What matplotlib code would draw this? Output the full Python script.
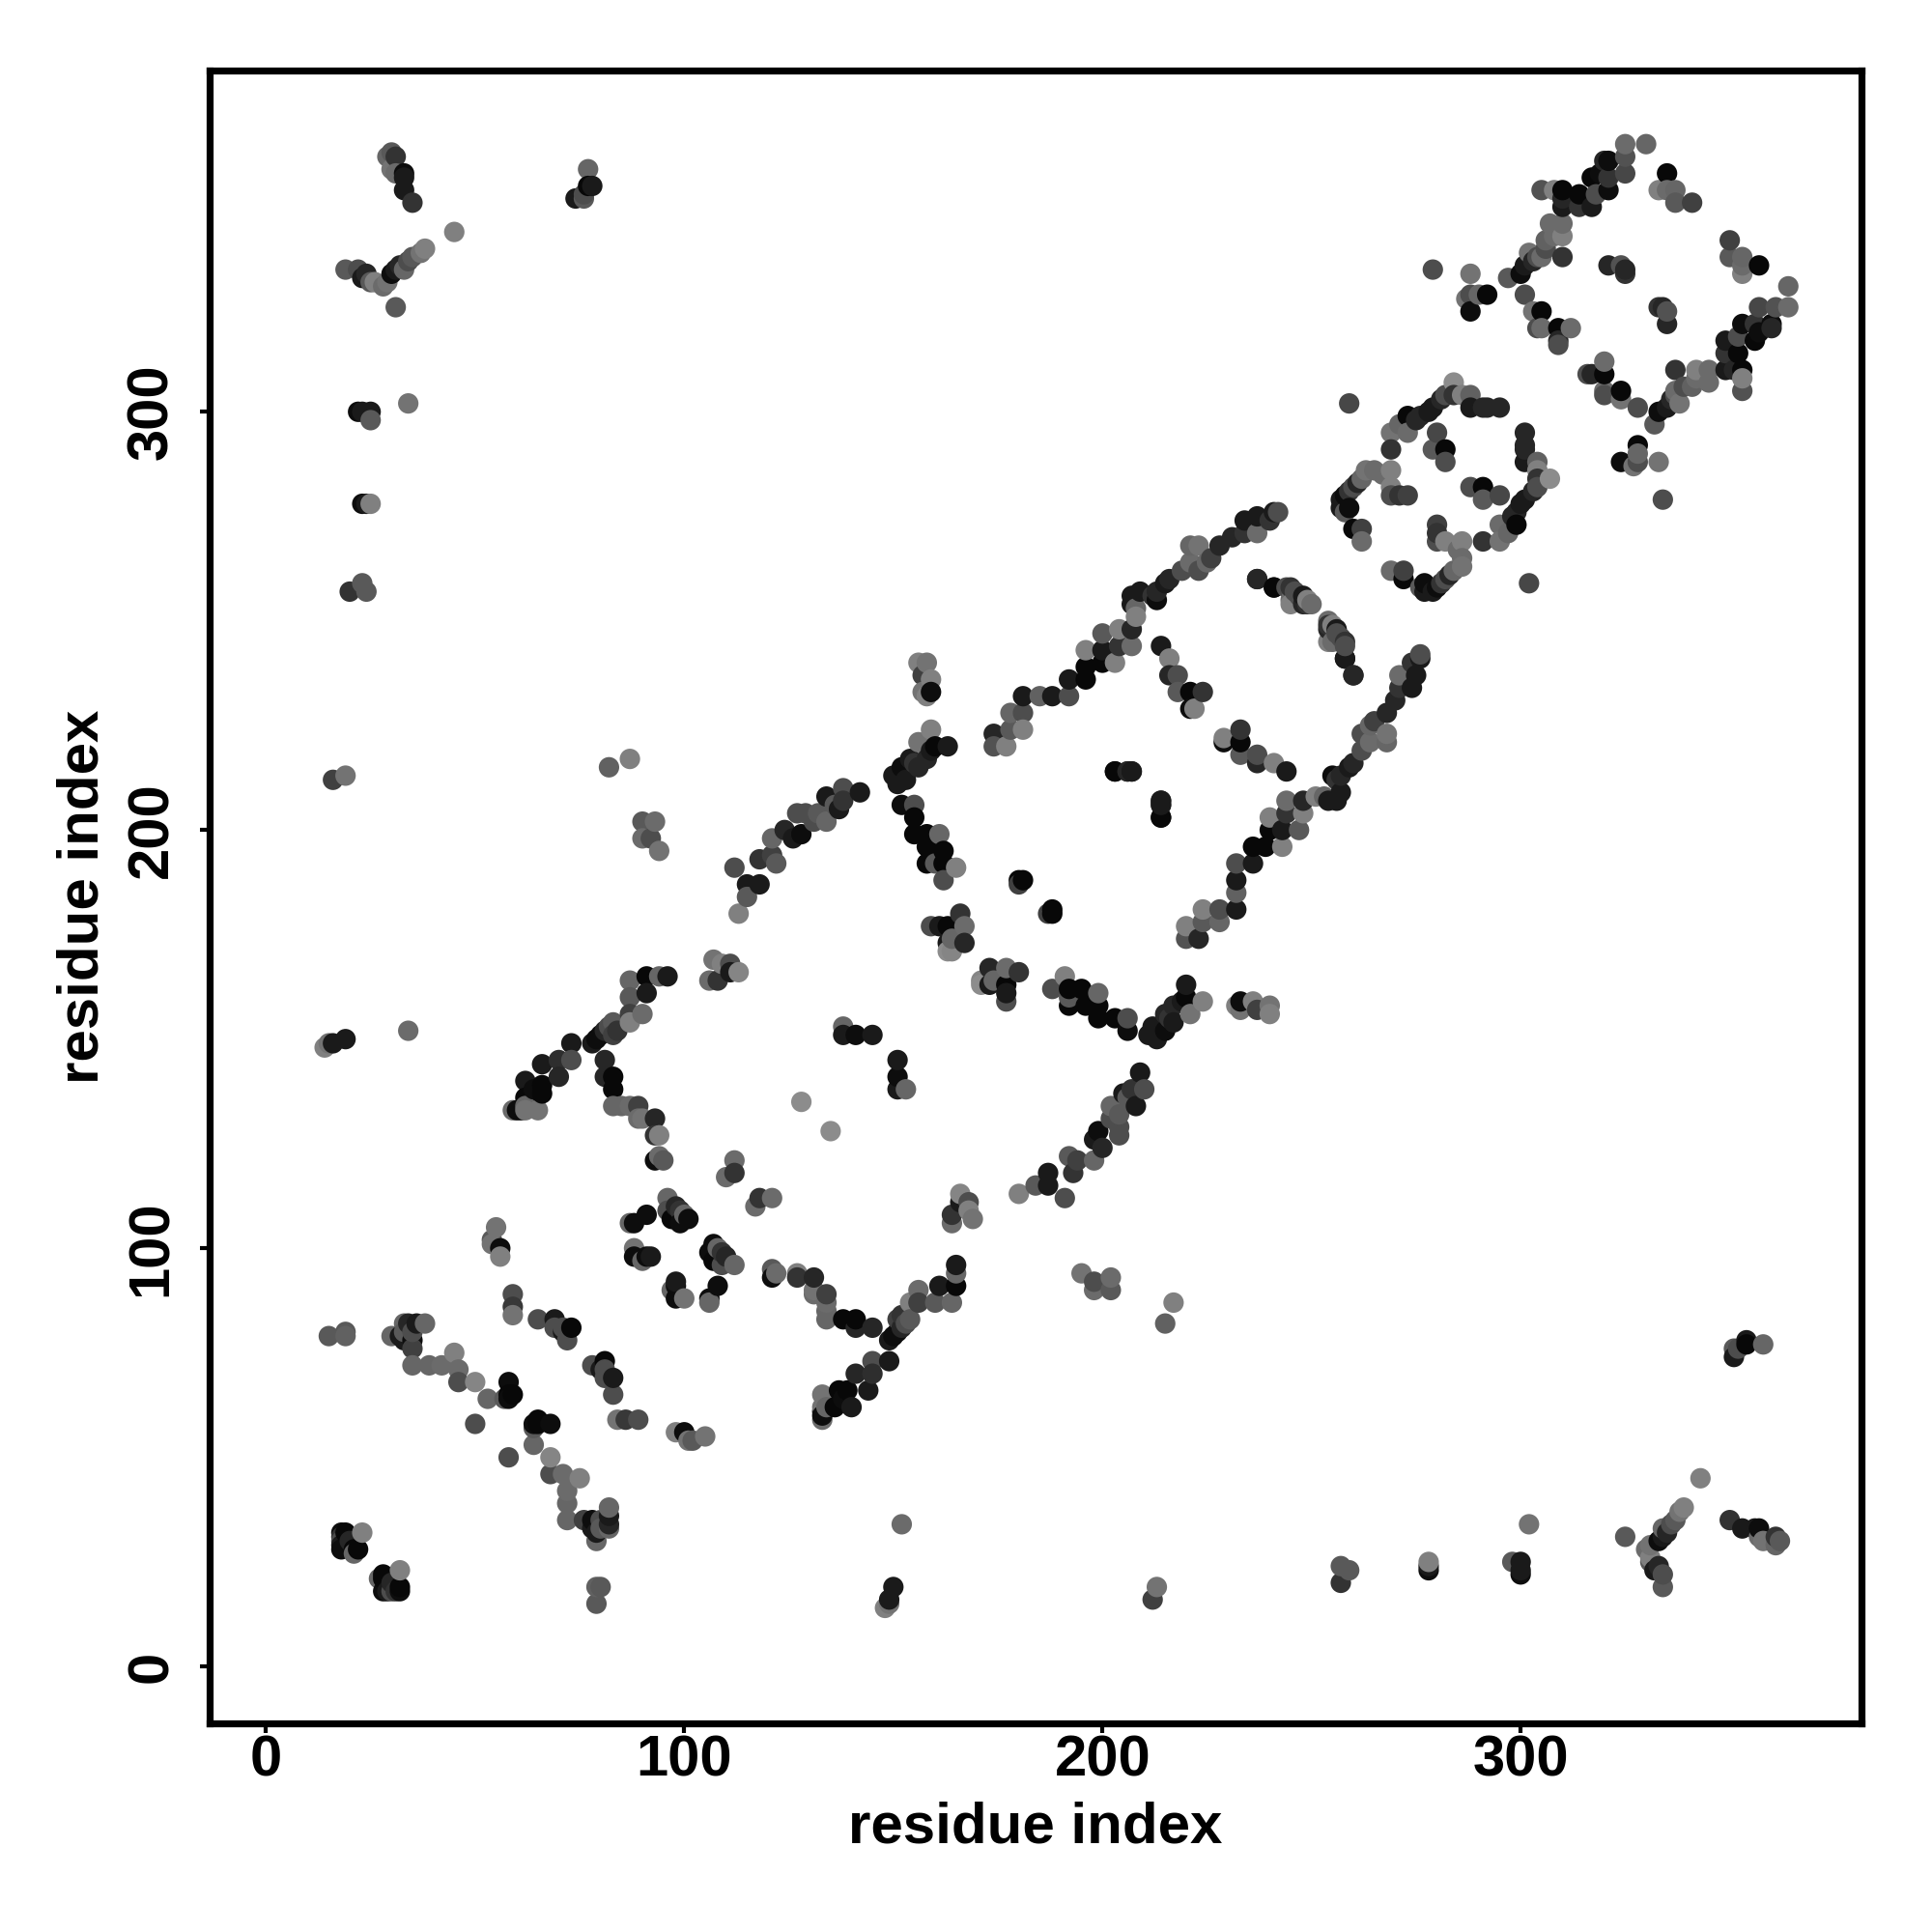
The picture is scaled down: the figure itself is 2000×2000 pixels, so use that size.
import numpy as np
import matplotlib
matplotlib.use('Agg')
import matplotlib.pyplot as plt

# contact map, only one side of the diagonal is listed: (residue a, residue b, grey)
far_strip = [
    (29, 361, .4), (30, 362, .35), (31, 361, .2), (30, 358, .45), (31, 357, .42), (33, 357, .05),
    (33, 356, .1), (33, 353, .1), (35, 350, .2), (77, 358, .4), (76, 351, .35), (78, 354, .1),
    (77, 354, .03), (76, 352, .3), (74, 351, .1), (19, 334, .35), (22, 334, .3), (23, 332, .1),
    (25, 331, .35), (26, 331, .5), (28, 330, .42), (24, 333, .15), (31, 334, .1), (32, 335, .15),
    (34, 336, .3), (35, 337, .35), (37, 338, .45), (38, 339, .5), (45, 343, .5), (31, 325, .35),
    (30, 333, .05), (33, 334, .4), (29, 331, .45), (22, 300, .05), (23, 300, .1), (25, 300, .1),
    (25, 298, .35), (34, 302, .45), (23, 278, .05), (24, 278, .1), (25, 278, .5), (20, 257, .2),
    (23, 259, .35), (24, 257, .35), (16, 212, .25), (19, 213, .45), (14, 148, .5), (15, 149, .45),
    (16, 149, .1), (19, 150, .1), (34, 152, .42), (82, 215, .38), (87, 217, .5), (90, 202, .35),
    (93, 202, .42), (90, 198, .42), (92, 198, .3), (94, 195, .45),
]
low_corner = [
    (15, 79, .35), (19, 80, .35), (19, 79, .38), (18, 32, .05), (19, 32, .03), (18, 31, .2),
    (18, 30, .3), (18, 29, .1), (18, 28, .05), (21, 28, .03), (22, 28, .03), (21, 27, .4),
    (23, 32, .5), (20, 30, .15), (30, 79, .4), (32, 79, .1), (33, 78, .1), (35, 78, .05),
    (35, 76, .25), (33, 82, .4), (34, 82, .15), (36, 82, .1), (38, 82, .4), (35, 80, .3),
    (33, 80, .35), (35, 72, .4), (39, 72, .4), (42, 72, .42), (45, 75, .5), (46, 71, .42),
    (46, 68, .3), (50, 68, .52), (53, 64, .4), (58, 68, .05), (58, 65, .03), (57, 64, .35),
    (58, 64, .05), (59, 65, .03), (50, 58, .3), (59, 89, .3), (59, 86, .22), (59, 84, .45),
    (65, 83, .3), (69, 83, .1), (69, 81, .3), (73, 81, .03), (72, 78, .3), (71, 80, .1),
    (71, 81, .3), (55, 105, .45), (54, 102, .35), (54, 101, .45), (56, 100, .05), (56, 98, .5),
]
first_square = [
    (87, 164, .4), (87, 160, .35), (91, 165, .03), (91, 161, .1), (94, 165, .4), (96, 165, .1),
    (107, 169, .45), (106, 164, .42), (108, 164, .2), (111, 168, .3), (111, 166, .1), (113, 166, .52),
    (109, 168, .5), (90, 156, .42), (87, 156, .25), (87, 154, .5), (83, 154, .35), (82, 153, .3),
    (81, 152, .15), (80, 151, .05), (79, 150, .05), (78, 149, .1), (83, 151, .25), (84, 152, .2),
    (73, 149, .1), (73, 145, .3), (70, 145, .18), (66, 144, .1), (70, 141, .15), (62, 140, .1),
    (66, 139, .03), (62, 136, .03), (66, 137, .03), (64, 138, .05), (62, 134, .4), (59, 133, .42),
    (61, 133, .05), (65, 133, .45), (62, 133, .45), (60, 133, .05), (81, 145, .15), (81, 141, .15),
    (83, 141, .03), (83, 138, .03), (83, 134, .4), (85, 134, .4), (87, 134, .42), (89, 134, .25),
    (89, 131, .42), (90, 131, .45), (93, 131, .15), (94, 127, .5), (93, 127, .2), (94, 122, .42),
    (95, 121, .35), (93, 121, .05), (138, 153, .4), (138, 151, .1), (141, 151, .05), (145, 151, .1),
    (128, 135, .55), (112, 121, .42), (112, 118, .2), (110, 117, .42), (96, 112, .4), (96, 109, .3),
    (99, 109, .2), (97, 107, .03), (101, 107, .05), (99, 106, .05), (98, 110, .15), (100, 108, .4),
    (91, 108, .05), (88, 106, .05), (87, 106, .4), (88, 100, .45), (88, 98, .05), (91, 98, .05),
    (92, 98, .1), (90, 97, .4),
]
middle_arc = [
    (112, 191, .3), (115, 187, .1), (118, 187, .1), (118, 193, .2), (121, 194, .25), (121, 198, .4),
    (122, 192, .35), (124, 200, .15), (126, 198, .1), (128, 199, .05), (129, 204, .3), (131, 202, .3),
    (134, 202, .4), (134, 208, .1), (137, 205, .1), (138, 210, .3), (142, 209, .1), (138, 207, .2),
    (113, 180, .5), (115, 184, .35), (127, 204, .3), (132, 204, .35), (136, 206, .35),
]
second_square = [
    (158, 240, .45), (157, 237, .25), (159, 236, .5), (157, 233, .45), (159, 233, .05), (156, 240, .5),
    (158, 232, .5), (159, 224, .5), (156, 221, .45), (160, 220, .03), (163, 220, .1), (159, 219, .1),
    (158, 217, .15), (154, 217, .1), (152, 215, .05), (150, 213, .1), (153, 212, .1), (151, 211, .1),
    (156, 215, .15), (155, 216, .2), (152, 206, .05), (155, 206, .3), (155, 203, .03), (155, 199, .03),
    (158, 199, .03), (161, 199, .4), (158, 196, .03), (162, 195, .03), (158, 192, .03), (160, 192, .35),
    (162, 192, .03), (165, 191, .5), (162, 188, .3), (174, 223, .15), (174, 220, .32), (177, 220, .5),
    (178, 224, .35), (178, 228, .4), (181, 228, .3), (181, 224, .5), (181, 232, .1), (185, 232, .38),
    (188, 232, .1), (192, 232, .3), (192, 236, .1), (196, 236, .03), (196, 239, .03), (196, 243, .5),
    (200, 240, .03), (200, 243, .1), (200, 247, .35), (203, 240, .5), (204, 244, .2), (204, 248, .5),
    (207, 244, .42), (207, 248, .15), (208, 253, .4), (208, 251, .5), (207, 254, .1), (213, 255, .05),
    (214, 244, .1), (216, 241, .5), (216, 237, .15), (218, 237, .3), (218, 233, .35), (221, 233, .03),
    (224, 233, .2), (221, 229, .05), (222, 229, .5), (255, 249, .5), (256, 248, .1), (258, 245, .2),
    (254, 245, .5), (258, 241, .03), (260, 237, .15), (245, 255, .42), (248, 254, .15), (250, 254, .42),
    (247, 256, .3), (241, 258, .1), (244, 258, .3), (237, 260, .15), (203, 214, .03), (206, 214, .1),
    (207, 214, .1), (214, 207, .1), (214, 206, .15), (214, 203, .03), (180, 188, .03), (181, 188, .03),
    (180, 187, .25), (159, 177, .3), (163, 177, .03), (166, 180, .2), (167, 177, .42), (164, 171, .52),
    (167, 173, .15), (163, 173, .1), (161, 177, .1), (164, 174, .4), (163, 171, .55), (207, 256, .1),
    (209, 257, .1), (212, 256, .2), (213, 257, .15), (215, 259, .1), (216, 260, .15), (219, 262, .3),
    (221, 264, .42), (223, 262, .3), (226, 265, .25), (228, 268, .15), (221, 268, .4), (223, 268, .45),
    (231, 270, .15), (234, 271, .2), (237, 271, .42), (234, 274, .1), (237, 275, .1), (241, 276, .1),
    (242, 276, .3), (240, 274, .2), (225, 264, .4), (246, 257, .3), (249, 254, .2),
]
third_ring = [
    (259, 302, .28), (284, 307, .55), (288, 304, .38), (286, 304, .5), (284, 304, .2), (282, 304, .3),
    (281, 303, .15), (279, 301, .1), (278, 300, .1), (276, 299, .15), (288, 301, .1), (291, 301, .15),
    (292, 301, .15), (295, 301, .15), (273, 299, .03), (273, 295, .42), (269, 295, .45), (269, 291, .2),
    (280, 295, .28), (282, 291, .03), (279, 291, .35), (282, 288, .3), (271, 297, .4), (275, 298, .15),
    (269, 286, .5), (265, 286, .42), (263, 286, .45), (262, 284, .4), (260, 282, .3), (259, 281, .2),
    (257, 279, .1), (257, 277, .1), (259, 277, .05), (258, 276, .35), (269, 282, .5), (269, 280, .3),
    (273, 280, .25), (271, 280, .2), (267, 285, .42), (261, 283, .15), (258, 280, .05), (260, 272, .03),
    (262, 272, .25), (262, 269, .42),
]
last_diamond = [
    (279, 334, .3), (288, 333, .45), (288, 328, .3), (292, 328, .03), (287, 327, .45), (288, 324, .05),
    (290, 328, .4), (297, 332, .35), (300, 333, .05), (301, 335, .1), (303, 336, .15), (302, 338, .45),
    (304, 337, .3), (305, 337, .42), (306, 339, .3), (306, 341, .38), (310, 337, .2), (308, 342, .42),
    (310, 342, .5), (310, 345, .42), (307, 345, .42), (310, 349, .1), (310, 351, .15), (310, 353, .03),
    (305, 353, .32), (314, 349, .2), (314, 352, .03), (317, 349, .1), (317, 356, .03), (321, 353, .05),
    (321, 356, .2), (321, 360, .05), (325, 357, .28), (325, 361, .32), (325, 364, .42), (330, 364, .4),
    (318, 352, .3), (308, 353, .5), (319, 357, .05), (320, 360, .15), (301, 328, .3), (303, 324, .45),
    (305, 324, .03), (305, 320, .42), (309, 320, .03), (312, 320, .42), (309, 317, .15), (309, 316, .3),
    (304, 320, .3), (335, 357, .03), (333, 353, .5), (335, 353, .42), (337, 353, .4), (337, 350, .35),
    (341, 350, .25), (321, 335, .15), (324, 335, .32), (325, 333, .2), (325, 334, .15),
]
tick_values = [0, 100, 200, 300]
axis_label = 'residue index'

contacts = np.array(far_strip + low_corner + first_square + middle_arc + second_square + third_ring + last_diamond)
res_a, res_b, greys = contacts[:, 0], contacts[:, 1], contacts[:, 2]

# the map is symmetric, so draw each pair on both sides of the diagonal
x = np.concatenate([res_a, res_b])
y = np.concatenate([res_b, res_a])
g = np.concatenate([greys, greys])
order = np.argsort(x, kind='stable')

plt.rcParams['font.family'] = ['Liberation Sans', 'DejaVu Sans']
plt.rcParams['font.weight'] = 'bold'

fig = plt.figure(figsize=(10, 10), dpi=200)
ax = fig.add_axes([217 / 2000, 1 - 1784 / 2000, (1927 - 217) / 2000, (1784 - 73) / 2000])
ax.scatter(x[order], y[order], s=58, c=[str(v) for v in g[order]], linewidths=0, zorder=2)

ax.set_xlim(-13.5, 381.5)
ax.set_ylim(-13.6, 381.6)
ax.set_xticks(tick_values)
ax.set_yticks(tick_values)
ax.tick_params(axis='both', length=3.5, width=1.5, labelsize=21.5)
ax.tick_params(axis='x', pad=0.5)
ax.tick_params(axis='y', pad=8)
for lab in ax.get_yticklabels():
    lab.set_rotation(90)
    lab.set_va('center')
ax.set_xlabel(axis_label, fontsize=21.6, fontweight='bold', labelpad=5)
ax.set_ylabel(axis_label, fontsize=21.6, fontweight='bold', labelpad=6)
for sp in ax.spines.values():
    sp.set_linewidth(2.6)

fig.savefig('out.png', dpi=200)
